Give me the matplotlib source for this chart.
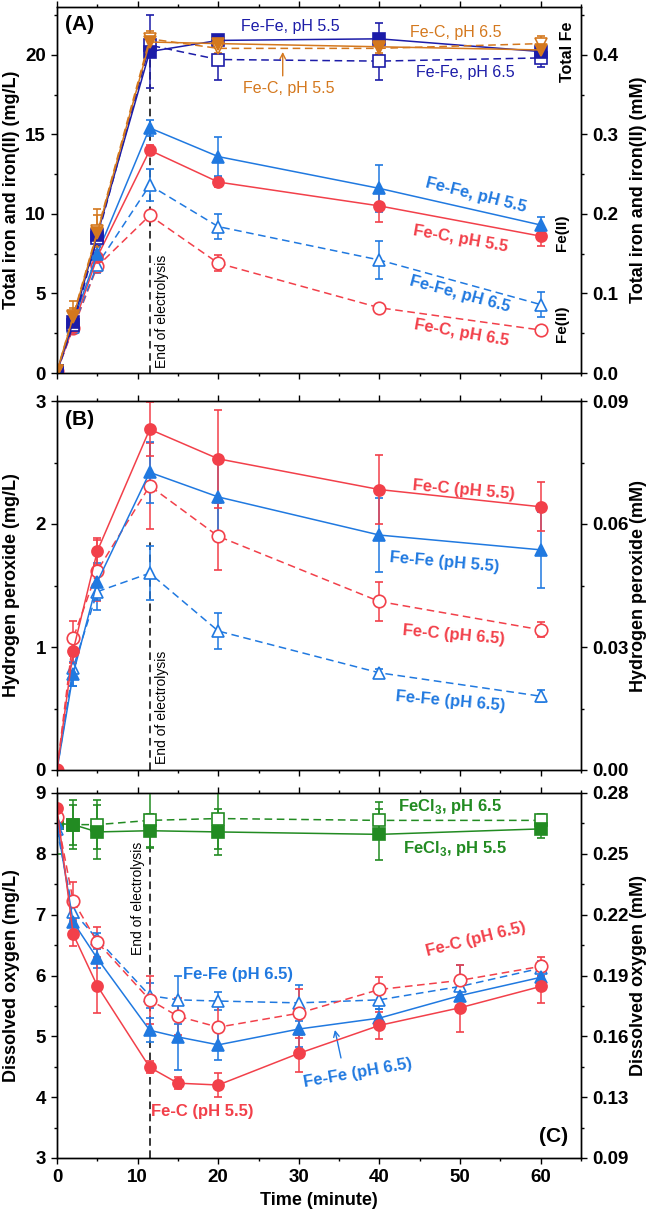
import matplotlib
matplotlib.use("Agg")
import matplotlib.pyplot as plt
from matplotlib.ticker import MultipleLocator, FixedLocator

plt.rcParams['font.family'] = ['Liberation Sans', 'DejaVu Sans']
plt.rcParams['mathtext.fontset'] = 'custom'
plt.rcParams['mathtext.rm'] = 'Liberation Sans'
plt.rcParams['mathtext.bf'] = 'Liberation Sans:bold'
plt.rcParams['axes.linewidth'] = 1.0

# colours
RED = '#f2404a'
BLUE = '#2079e0'
NAVY = '#1c1ca8'
ORANGE = '#d4781e'
GREEN = '#228b22'
NARROW = ['Liberation Sans Narrow', 'Liberation Sans', 'DejaVu Sans']

# ---- (A) total iron and Fe(II), mg/L
t_fe = [0, 2, 5, 11.5, 20, 40, 60]
tot_fefe55 = [0.1, 3.2, 8.7, 20.2, 20.9, 21.0, 20.2]
tot_fefe55_err = [0, 0.3, 0.4, 2.3, 0.3, 1.0, 0.3]
tot_fefe65 = [0.1, 3.0, 8.5, 20.6, 19.7, 19.6, 19.8]
tot_fefe65_err = [0, 0.3, 0.5, 0.5, 1.3, 1.2, 0.6]
tot_fec55 = [0.1, 3.5, 8.8, 20.8, 20.7, 20.5, 20.3]
tot_fec55_err = [0, 1.0, 1.5, 0.5, 0.3, 0.5, 0.4]
tot_fec65 = [0.1, 3.6, 8.9, 21.0, 20.4, 20.4, 20.7]
tot_fec65_err = [0, 0.5, 1.0, 0.5, 0.3, 0.3, 0.5]

fe2_fefe55 = [0.1, 3.2, 7.5, 15.4, 13.6, 11.6, 9.3]
fe2_fefe55_err = [0, 0.3, 0.5, 0.5, 1.2, 1.5, 0.5]
fe2_fec55 = [0.1, 2.9, 7.3, 14.0, 12.0, 10.5, 8.6]
fe2_fec55_err = [0, 0.2, 0.4, 0.3, 0.3, 1.0, 0.6]
fe2_fefe65 = [0.1, 2.9, 6.8, 11.8, 9.2, 7.1, 4.3]
fe2_fefe65_err = [0, 0.3, 0.5, 1.0, 0.8, 1.2, 0.8]
fe2_fec65 = [0.1, 2.8, 6.7, 9.9, 6.9, 4.1, 2.7]
fe2_fec65_err = [0, 0.2, 0.3, 0.3, 0.5, 0.2, 0.2]

# ---- (B) hydrogen peroxide, mg/L
t_h2o2 = [0, 2, 5, 11.5, 20, 40, 60]
h2o2_fec55 = [0, 0.97, 1.78, 2.77, 2.53, 2.28, 2.14]
h2o2_fec55_err = [0, 0.1, 0.11, 0.22, 0.4, 0.28, 0.2]
h2o2_fefe55 = [0, 0.78, 1.53, 2.42, 2.22, 1.91, 1.79]
h2o2_fefe55_err = [0, 0.1, 0.15, 0.25, 0.3, 0.3, 0.31]
h2o2_fec65 = [0, 1.07, 1.62, 2.31, 1.9, 1.37, 1.14]
h2o2_fec65_err = [0, 0.14, 0.25, 0.35, 0.27, 0.16, 0.06]
h2o2_fefe65 = [0, 0.83, 1.45, 1.6, 1.13, 0.79, 0.6]
h2o2_fefe65_err = [0, 0.15, 0.15, 0.22, 0.15, 0.03, 0.05]

# ---- (C) dissolved oxygen, mg/L
t_do = [0, 2, 5, 11.5, 15, 20, 30, 40, 50, 60]
t_fecl3 = [0, 2, 5, 11.5, 20, 40, 60]
do_fecl3_55 = [8.5, 8.48, 8.36, 8.38, 8.36, 8.32, 8.41]
do_fecl3_55_err = [0.5, 0.33, 0.45, 0.27, 0.38, 0.42, 0.15]
do_fecl3_65 = [8.5, 8.48, 8.48, 8.55, 8.58, 8.55, 8.55]
do_fecl3_65_err = [0, 0.4, 0.4, 0.45, 0.5, 0.3, 0.1]
do_fec55 = [8.75, 6.68, 5.83, 4.49, 4.23, 4.2, 4.72, 5.18, 5.47, 5.82]
do_fec55_err = [0, 0.2, 0.45, 0.1, 0.1, 0.2, 0.3, 0.22, 0.4, 0.28]
do_fefe55 = [8.5, 6.88, 6.28, 5.1, 4.99, 4.86, 5.12, 5.3, 5.67, 5.97]
do_fefe55_err = [0, 0.15, 0.15, 0.2, 0.55, 0.25, 0.3, 0.15, 0.2, 0.2]
do_fec65 = [8.6, 7.23, 6.55, 5.6, 5.33, 5.15, 5.38, 5.77, 5.92, 6.15]
do_fec65_err = [0, 0.3, 0.25, 0.4, 0.3, 0.35, 0.4, 0.2, 0.25, 0.15]
do_fefe65 = [8.4, 7.05, 6.6, 5.67, 5.6, 5.58, 5.55, 5.6, 5.82, 6.12]
do_fefe65_err = [0, 0.15, 0.1, 0.2, 0.4, 0.15, 0.3, 0.15, 0.35, 0.12]

do_mM_labels = ['0.09', '0.13', '0.16', '0.19', '0.22', '0.25', '0.28']
t_end = 11.5


def series(ax, x, y, err, color, marker, open_=False, ms=8):
    ax.errorbar(x, y, yerr=err, color=color, ecolor=color, lw=1.1,
                ls=(0, (5, 3)) if open_ else '-', marker=marker, ms=ms,
                mfc='white' if open_ else color, mec=color, mew=1.2,
                elinewidth=1.1, capsize=3, capthick=1.1, zorder=3)


def style(ax, last=False):
    ax.set_xlim(0, 65)
    ax.xaxis.set_major_locator(MultipleLocator(10))
    ax.xaxis.set_minor_locator(MultipleLocator(5))
    ax.xaxis.set_ticks_position('both')
    ax.tick_params(which='both', direction='out', width=1.0, labelsize=13.5)
    ax.tick_params(which='major', length=4.5)
    ax.tick_params(which='minor', length=2.5)
    ax.tick_params(axis='x', labelbottom=last)
    for lab in ax.get_yticklabels() + ax.get_xticklabels():
        lab.set_fontweight('bold')


def right(ax, lo, hi, major, minor, fmt, label):
    r = ax.twinx()
    r.set_ylim(lo, hi)
    r.yaxis.set_major_locator(MultipleLocator(major))
    r.yaxis.set_minor_locator(MultipleLocator(minor))
    r.yaxis.set_major_formatter(fmt)
    r.tick_params(which='both', direction='out', width=1.0, labelsize=13.5)
    r.tick_params(which='major', length=4.5)
    r.tick_params(which='minor', length=2.5)
    for lab in r.get_yticklabels():
        lab.set_fontweight('bold')
    r.set_ylabel(label, fontsize=13, fontweight='bold')
    r.yaxis.set_label_coords(1.093, 0.5)
    return r


fig = plt.figure(figsize=(6.63, 12.18), dpi=100)
L, W = 57 / 663, 524 / 663
axA = fig.add_axes([L, 1 - 373 / 1218, W, 366 / 1218])
axB = fig.add_axes([L, 1 - 770 / 1218, W, 369 / 1218])
axC = fig.add_axes([L, 1 - 1158 / 1218, W, 365 / 1218])

# ---------------- panel A
series(axA, t_fe, fe2_fec65, fe2_fec65_err, RED, 'o', True, 9)
series(axA, t_fe, fe2_fefe65, fe2_fefe65_err, BLUE, '^', True, 9)
series(axA, t_fe, fe2_fec55, fe2_fec55_err, RED, 'o')
series(axA, t_fe, fe2_fefe55, fe2_fefe55_err, BLUE, '^', ms=9)
series(axA, t_fe, tot_fefe65, tot_fefe65_err, NAVY, 's', True, 8)
series(axA, t_fe, tot_fefe55, tot_fefe55_err, NAVY, 's')
series(axA, t_fe, tot_fec65, tot_fec65_err, ORANGE, 'v', True, 9)
series(axA, t_fe, tot_fec55, tot_fec55_err, ORANGE, 'v', ms=9)
axA.plot([t_end, t_end], [0, 20], color='black', lw=1.1, ls=(0, (5, 3)), zorder=2)
axA.text(t_end + 0.6, 0.3, 'End of electrolysis', rotation=90, fontsize=10,
         ha='left', va='bottom')
axA.set_ylim(0, 23)
axA.yaxis.set_major_locator(MultipleLocator(5))
axA.yaxis.set_minor_locator(MultipleLocator(2.5))
axA.set_ylabel('Total iron and iron(II) (mg/L)', fontsize=13, fontweight='bold')
axA.yaxis.set_label_coords(-0.07, 0.5)
axA.text(1.0, 21.9, '(A)', fontsize=15, fontweight='bold', ha='left', va='center')
axA.text(29, 21.75, 'Fe-Fe, pH 5.5', color=NAVY, fontsize=11.5, ha='center', va='center')
axA.text(49.5, 21.4, 'Fe-C, pH 6.5', color=ORANGE, fontsize=11.5, ha='center', va='center')
axA.text(50.6, 18.9, 'Fe-Fe, pH 6.5', color=NAVY, fontsize=11.5, ha='center', va='center')
axA.text(28.7, 17.85, 'Fe-C, pH 5.5', color=ORANGE, fontsize=11.5, ha='center', va='center')
axA.annotate('', xy=(28, 20.35), xytext=(28, 18.5),
             arrowprops=dict(arrowstyle='->', color=ORANGE, lw=1.0))
axA.text(52, 11.2, 'Fe-Fe, pH 5.5', color=BLUE, fontsize=12, fontweight='bold',
         rotation=-14, ha='center', va='center', family=NARROW)
axA.text(50, 8.4, 'Fe-C, pH 5.5', color=RED, fontsize=12, fontweight='bold',
         rotation=-10, ha='center', va='center', family=NARROW)
axA.text(50, 4.95, 'Fe-Fe, pH 6.5', color=BLUE, fontsize=12, fontweight='bold',
         rotation=-15, ha='center', va='center', family=NARROW)
axA.text(50.2, 2.5, 'Fe-C, pH 6.5', color=RED, fontsize=12, fontweight='bold',
         rotation=-10, ha='center', va='center', family=NARROW)
axA.text(62.7, 8.8, 'Fe(II)', fontsize=11, fontweight='bold', rotation=90,
         ha='center', va='center')
axA.text(62.7, 3.1, 'Fe(II)', fontsize=11, fontweight='bold', rotation=90,
         ha='center', va='center')
axA.text(63.3, 20.2, 'Total Fe', fontsize=11.5, fontweight='bold', rotation=90,
         ha='center', va='center')
style(axA)
right(axA, 0, 0.46, 0.1, 0.05, '{x:.1f}', 'Total iron and iron(II) (mM)')

# ---------------- panel B
series(axB, t_h2o2, h2o2_fefe65, h2o2_fefe65_err, BLUE, '^', True, 9)
series(axB, t_h2o2, h2o2_fec65, h2o2_fec65_err, RED, 'o', True, 9)
series(axB, t_h2o2, h2o2_fefe55, h2o2_fefe55_err, BLUE, '^', ms=9)
series(axB, t_h2o2, h2o2_fec55, h2o2_fec55_err, RED, 'o')
axB.plot([t_end, t_end], [0, 1.88], color='black', lw=1.1, ls=(0, (5, 3)), zorder=2)
axB.text(t_end + 0.6, 0.05, 'End of electrolysis', rotation=90, fontsize=10,
         ha='left', va='bottom')
axB.set_ylim(0, 3)
axB.yaxis.set_major_locator(MultipleLocator(1))
axB.yaxis.set_minor_locator(MultipleLocator(0.5))
axB.set_ylabel('Hydrogen peroxide (mg/L)', fontsize=13, fontweight='bold')
axB.yaxis.set_label_coords(-0.07, 0.5)
axB.text(1.0, 2.85, '(B)', fontsize=15, fontweight='bold', ha='left', va='center')
axB.text(50.5, 2.28, 'Fe-C (pH 5.5)', color=RED, fontsize=12, fontweight='bold',
         rotation=-5, ha='center', va='center', family=NARROW)
axB.text(48, 1.69, 'Fe-Fe (pH 5.5)', color=BLUE, fontsize=12, fontweight='bold',
         rotation=-5, ha='center', va='center', family=NARROW)
axB.text(49.2, 1.1, 'Fe-C (pH 6.5)', color=RED, fontsize=12, fontweight='bold',
         rotation=-5, ha='center', va='center', family=NARROW)
axB.text(48.8, 0.56, 'Fe-Fe (pH 6.5)', color=BLUE, fontsize=12, fontweight='bold',
         rotation=-5, ha='center', va='center', family=NARROW)
style(axB)
right(axB, 0, 0.09, 0.03, 0.015, '{x:.2f}', 'Hydrogen peroxide (mM)')

# ---------------- panel C
series(axC, t_fecl3, do_fecl3_65, do_fecl3_65_err, GREEN, 's', True, 8)
series(axC, t_fecl3, do_fecl3_55, do_fecl3_55_err, GREEN, 's')
series(axC, t_do, do_fefe65, do_fefe65_err, BLUE, '^', True, 9)
series(axC, t_do, do_fec65, do_fec65_err, RED, 'o', True, 9)
series(axC, t_do, do_fefe55, do_fefe55_err, BLUE, '^', ms=9)
series(axC, t_do, do_fec55, do_fec55_err, RED, 'o')
axC.plot([t_end, t_end], [3, 8.15], color='black', lw=1.1, ls=(0, (5, 3)), zorder=2)
axC.text(t_end - 0.6, 8.2, 'End of electrolysis', rotation=90, fontsize=10,
         ha='right', va='top')
axC.set_ylim(3, 9)
axC.yaxis.set_major_locator(MultipleLocator(1))
axC.yaxis.set_minor_locator(MultipleLocator(0.5))
axC.set_ylabel('Dissolved oxygen (mg/L)', fontsize=13, fontweight='bold')
axC.yaxis.set_label_coords(-0.07, 0.5)
axC.set_xlabel('Time (minute)', fontsize=13, fontweight='bold')
axC.text(63.4, 3.36, '(C)', fontsize=15, fontweight='bold', ha='right', va='center')
axC.text(48.7, 8.77, r'FeCl$_\mathbf{3}$, pH 6.5', color=GREEN, fontsize=12,
         fontweight='bold', ha='center', va='center', family=NARROW)
axC.text(49.4, 8.08, r'FeCl$_\mathbf{3}$, pH 5.5', color=GREEN, fontsize=12,
         fontweight='bold', ha='center', va='center', family=NARROW)
axC.text(22.5, 6.02, 'Fe-Fe (pH 6.5)', color=BLUE, fontsize=12, fontweight='bold',
         ha='center', va='center', family=NARROW)
axC.text(52, 6.6, 'Fe-C (pH 6.5)', color=RED, fontsize=12, fontweight='bold',
         rotation=14, ha='center', va='center', family=NARROW)
axC.text(18, 3.77, 'Fe-C (pH 5.5)', color=RED, fontsize=12, fontweight='bold',
         ha='center', va='center', family=NARROW)
axC.text(37.3, 4.4, 'Fe-Fe (pH 6.5)', color=BLUE, fontsize=12, fontweight='bold',
         rotation=10, ha='center', va='center', family=NARROW)
axC.annotate('', xy=(34.4, 5.15), xytext=(35.3, 4.6),
             arrowprops=dict(arrowstyle='->', color=BLUE, lw=1.0))
style(axC, last=True)
rC = right(axC, 3 / 32, 9 / 32, 1 / 32, 0.5 / 32, '{x:.2f}', 'Dissolved oxygen (mM)')
rC.yaxis.set_major_locator(FixedLocator([i / 32 for i in range(3, 10)]))
rC.set_yticklabels(do_mM_labels, fontweight='bold')

fig.savefig('out.png', dpi=100)
